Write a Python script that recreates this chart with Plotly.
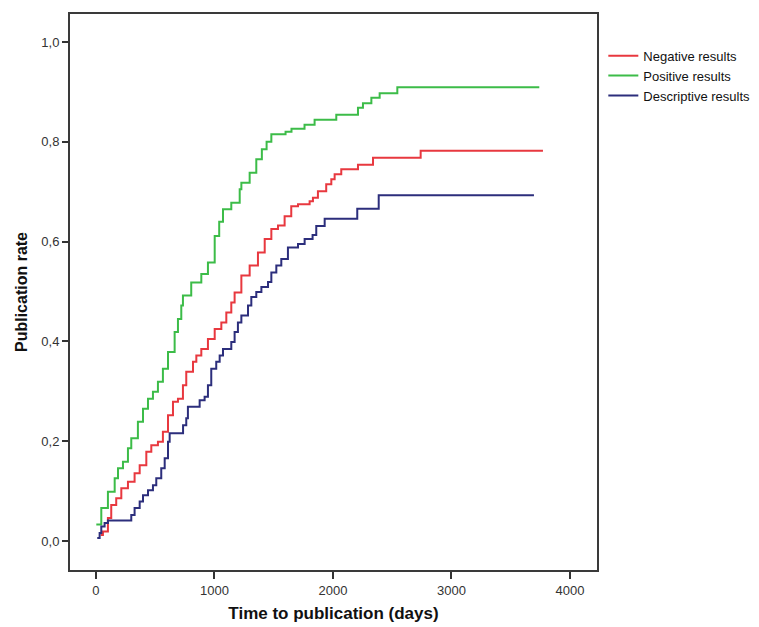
import plotly.graph_objects as go

# Kaplan-Meier style cumulative publication curves
neg_days = [40, 59, 101, 129, 171, 214, 270, 326, 369, 425, 467, 523, 565, 608, 650, 692, 734, 762,
            819, 847, 889, 945, 1002, 1058, 1100, 1142, 1170, 1227, 1297, 1367, 1424, 1480, 1536,
            1592, 1648, 1705, 1803, 1831, 1873, 1943, 1986, 2014, 2070, 2211, 2338, 2740, 3772]
neg_rate = [0.012, 0.019, 0.046, 0.072, 0.086, 0.106, 0.119, 0.136, 0.152, 0.179, 0.192, 0.199,
            0.219, 0.252, 0.279, 0.285, 0.312, 0.339, 0.359, 0.372, 0.385, 0.405, 0.425, 0.438,
            0.458, 0.478, 0.498, 0.532, 0.552, 0.578, 0.605, 0.625, 0.632, 0.651, 0.671, 0.675,
            0.681, 0.688, 0.701, 0.715, 0.725, 0.735, 0.745, 0.754, 0.768, 0.782, 0.782]

pos_days = [3, 45, 101, 158, 186, 228, 270, 298, 354, 397, 439, 481, 523, 565, 608, 664, 692, 720,
            734, 804, 889, 945, 1002, 1040, 1072, 1142, 1213, 1227, 1297, 1353, 1400, 1440, 1480,
            1600, 1650, 1760, 1845, 2028, 2211, 2253, 2324, 2394, 2543, 3741]
pos_rate = [0.033, 0.066, 0.099, 0.126, 0.146, 0.159, 0.186, 0.206, 0.239, 0.265, 0.285, 0.299,
            0.319, 0.345, 0.379, 0.419, 0.445, 0.472, 0.492, 0.518, 0.535, 0.558, 0.611, 0.640,
            0.665, 0.678, 0.705, 0.718, 0.738, 0.765, 0.785, 0.800, 0.815, 0.820, 0.826, 0.834,
            0.844, 0.854, 0.868, 0.877, 0.888, 0.897, 0.909, 0.909]

desc_days = [11, 31, 45, 73, 101, 298, 326, 369, 397, 439, 481, 509, 551, 580, 608, 622, 735, 762,
             776, 875, 917, 945, 973, 1015, 1044, 1072, 1142, 1170, 1198, 1227, 1283, 1311, 1353,
             1396, 1452, 1480, 1522, 1564, 1620, 1705, 1761, 1828, 1859, 1930, 2205, 2386, 3696]
desc_rate = [0.006, 0.016, 0.029, 0.036, 0.041, 0.052, 0.066, 0.079, 0.092, 0.102, 0.112, 0.126,
             0.146, 0.166, 0.199, 0.216, 0.232, 0.246, 0.269, 0.282, 0.289, 0.312, 0.345, 0.359,
             0.372, 0.385, 0.399, 0.419, 0.438, 0.452, 0.472, 0.489, 0.499, 0.509, 0.519, 0.538,
             0.552, 0.565, 0.588, 0.595, 0.605, 0.613, 0.631, 0.646, 0.666, 0.693, 0.693]

series_names = ["Negative results", "Positive results", "Descriptive results"]
series_colors = ["#e8383f", "#3cbc48", "#2c2e7c"]
x_ticks = [0, 1000, 2000, 3000, 4000]
y_ticks = [0.0, 0.2, 0.4, 0.6, 0.8, 1.0]

fig = go.Figure()
for name, xs, ys, col in zip(series_names,
                             [neg_days, pos_days, desc_days],
                             [neg_rate, pos_rate, desc_rate],
                             series_colors):
    fig.add_trace(go.Scatter(x=xs, y=ys, name=name, mode="lines",
                             line=dict(color=col, width=2, shape="hv")))

font = "Arial, Liberation Sans, sans-serif"
fig.update_layout(
    width=759, height=627,
    margin=dict(l=62, r=170, t=4, b=65),
    paper_bgcolor="white", plot_bgcolor="white",
    separators=",.",
    font=dict(family=font, size=13, color="#333333"),
    showlegend=True,
    legend=dict(x=1.012, y=0.952, xanchor="left", yanchor="top",
                font=dict(family=font, size=13, color="#111111"),
                bgcolor="rgba(0,0,0,0)", tracegroupgap=0, itemwidth=30),
    xaxis=dict(range=[-219, 4228], tickvals=x_ticks, ticks="outside", ticklen=7,
               tickwidth=2, tickcolor="#333333", showline=True, linewidth=2,
               linecolor="#3a3a3a", mirror=True, showgrid=False, zeroline=False,
               tickfont=dict(size=13, color="#333333"),
               title=dict(text="Time to publication (days)", standoff=11,
                          font=dict(family=font, size=17, color="#111111", weight="bold"))),
    yaxis=dict(range=[-0.058, 1.056], tickvals=y_ticks, tickformat=".1f", ticks="outside",
               ticklen=6, tickwidth=2, tickcolor="#333333", showline=True, linewidth=2,
               linecolor="#3a3a3a", mirror=True, showgrid=False, zeroline=False,
               tickfont=dict(size=13, color="#333333"),
               title=dict(text="Publication rate", standoff=10,
                          font=dict(family=font, size=16, color="#111111", weight="bold"))),
)

fig.write_html("out.html")
